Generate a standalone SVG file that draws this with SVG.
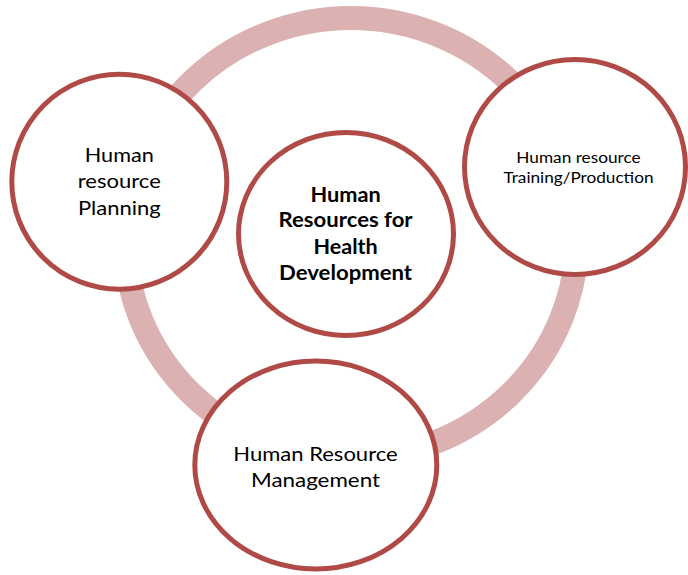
<svg xmlns="http://www.w3.org/2000/svg" width="688" height="575" viewBox="0 0 688 575">
<style>
.node{fill:#ffffff;stroke:#b04a46;stroke-width:5}
.ring{fill:none;stroke:#dcb1b1;stroke-width:24}
.t{font-family:Lato,"Open Sans","Liberation Sans",sans-serif;fill:#000000;text-anchor:middle}
.big{font-size:20px}
.bold{font-size:20px;font-weight:bold}
.small{font-size:15.5px}
</style>
<rect width="688" height="575" fill="#ffffff"/>
<g id="connectors">
<ellipse class="ring" cx="351" cy="238" rx="226" ry="220"/>
</g>
<g id="node-planning">
<circle class="node" cx="119.3" cy="181.7" r="107.5"/>
<text class="t big"><tspan x="119.3" y="161.7" textLength="69" lengthAdjust="spacingAndGlyphs">Human</tspan><tspan x="119.3" y="188.3" textLength="83" lengthAdjust="spacingAndGlyphs">resource</tspan><tspan x="119.3" y="215" textLength="82.7" lengthAdjust="spacingAndGlyphs">Planning</tspan></text>
</g>
<g id="node-center">
<ellipse class="node" cx="346" cy="234" rx="107.5" ry="101.5"/>
<text class="t bold"><tspan x="345.6" y="201.7" textLength="70.3" lengthAdjust="spacingAndGlyphs">Human</tspan><tspan x="345.6" y="227.3" textLength="134" lengthAdjust="spacingAndGlyphs">Resources for</tspan><tspan x="345.6" y="254" textLength="64.3" lengthAdjust="spacingAndGlyphs">Health</tspan><tspan x="345.6" y="280" textLength="133" lengthAdjust="spacingAndGlyphs">Development</tspan></text>
</g>
<g id="node-training">
<ellipse class="node" cx="575" cy="167" rx="110.5" ry="107.5"/>
<text class="t small"><tspan x="578.5" y="163.3" textLength="124.3" lengthAdjust="spacingAndGlyphs">Human resource</tspan><tspan x="578.5" y="183.3" textLength="150" lengthAdjust="spacingAndGlyphs">Training/Production</tspan></text>
</g>
<g id="node-management">
<ellipse class="node" cx="315.8" cy="465" rx="121" ry="104"/>
<text class="t big"><tspan x="315.5" y="460.7" textLength="164.3" lengthAdjust="spacingAndGlyphs">Human Resource</tspan><tspan x="315.5" y="486.7" textLength="129" lengthAdjust="spacingAndGlyphs">Management</tspan></text>
</g>
</svg>
